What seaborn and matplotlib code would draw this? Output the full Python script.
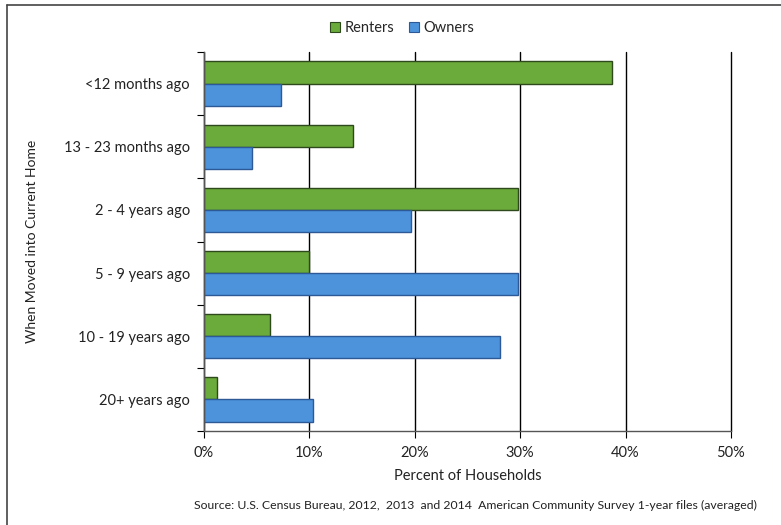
import matplotlib
matplotlib.use("Agg")
import matplotlib.pyplot as plt
import seaborn as sns
import pandas as pd
import numpy as np
from matplotlib.lines import Line2D
from matplotlib.ticker import FixedLocator, PercentFormatter

categories = ["<12 months ago", "13 - 23 months ago", "2 - 4 years ago",
              "5 - 9 years ago", "10 - 19 years ago", "20+ years ago"]
renters = [38.7, 14.1, 29.8, 10.0, 6.3, 1.2]
owners = [7.3, 4.6, 19.6, 29.8, 28.1, 10.3]
series = ["Renters", "Owners"]
x_ticks = [0, 10, 20, 30, 40, 50]

df = pd.DataFrame({
    "category": categories * 2,
    "value": renters + owners,
    "tenure": ["Renters"] * len(categories) + ["Owners"] * len(categories),
})

sns.set_theme(style="white")
plt.rcParams['font.family'] = ['Lato', 'DejaVu Sans']

fig = plt.figure(figsize=(7.81, 5.25), dpi=100)
ax = fig.add_axes([204/781, 1 - 431/525, (731-204)/781, (431-52)/525])

palette = {"Renters": "#6AAB3B", "Owners": "#4C93DC"}
edges = {"Renters": "#2E4A1C", "Owners": "#2D5A96"}
sns.barplot(data=df, y="category", x="value", hue="tenure", order=categories,
            hue_order=series, palette=palette, orient="h", width=0.7,
            ax=ax, legend=False, saturation=1)

for cont, name in zip(ax.containers, series):
    for p in cont:
        p.set_edgecolor(edges[name])
        p.set_linewidth(1.0)

ax.set_xlim(0, 50)
ax.set_ylim(len(categories) - 0.5, -0.5)
ax.set_xticks(x_ticks)
ax.xaxis.set_major_formatter(PercentFormatter(decimals=0))
ax.grid(axis="x", color="black", linewidth=1.0)
for gl in ax.xaxis.get_gridlines():
    gl.set_clip_on(False)
ax.set_axisbelow(True)
for s in ["top", "right"]:
    ax.spines[s].set_visible(False)
for s in ["left", "bottom"]:
    ax.spines[s].set_color("#555555")
    ax.spines[s].set_linewidth(1.0)

ax.tick_params(axis="x", which="major", direction="out", length=5, color="black",
               labelsize=10.5, colors="#222222", pad=6, bottom=True, width=0.8)
ax.tick_params(axis="y", which="major", length=0, labelsize=10.5, colors="#222222", pad=10)
ax.yaxis.set_minor_locator(FixedLocator(np.arange(-0.5, len(categories), 1.0)))
ax.tick_params(axis="y", which="minor", direction="out", length=5, color="black", width=0.8, left=True)

ax.set_xlabel("Percent of Households", fontsize=10.5, color="#222222", labelpad=6)
ax.set_ylabel("When Moved into Current Home", fontsize=10, color="#222222")
ax.yaxis.set_label_coords(-0.315, 0.5)

handles = [plt.Rectangle((0, 0), 1, 1, facecolor=palette[s], edgecolor=edges[s], linewidth=0.8)
           for s in series]
fig.legend(handles, series, loc="center", bbox_to_anchor=(402/781, 1 - 28/525), ncol=2,
           frameon=False, fontsize=10.5, handlelength=0.7, handleheight=0.7,
           handletextpad=0.3, columnspacing=1.0)

fig.text(757/781, 1 - 505/525,
         "Source: U.S. Census Bureau, 2012,  2013  and 2014  American Community Survey 1-year files (averaged)",
         ha="right", va="center", fontsize=8.8, color="#222222")

fig.add_artist(Line2D([7/781, 7/781], [0, 1 - 5/525], transform=fig.transFigure, color="#444444", linewidth=1.2))
fig.add_artist(Line2D([7/781, 1], [1 - 5/525, 1 - 5/525], transform=fig.transFigure, color="#444444", linewidth=1.2))

fig.savefig("out.png", dpi=100)
